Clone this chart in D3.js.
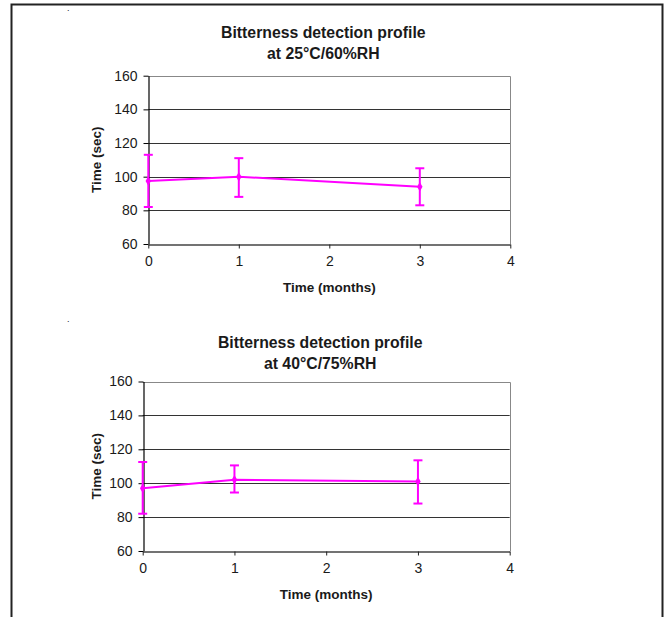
<!DOCTYPE html>
<html>
<head>
<meta charset="utf-8">
<script src="https://cdn.jsdelivr.net/npm/d3@7"></script>
<style>
  html, body { margin: 0; padding: 0; background: #fff; }
  svg { display: block; }
  text { font-family: "Liberation Sans", Arial, sans-serif; fill: #1a1a1a; }
</style>
</head>
<body>
<svg id="chart" width="665" height="617"></svg>
<script>
// ---- data ----
const months = [0, 1, 3];
const xTicks = [0, 1, 2, 3, 4];
const yTicks = [60, 80, 100, 120, 140, 160];

const title1 = ["Bitterness detection profile", "at 25°C/60%RH"];
const mean1  = [97.5, 100, 94];
const upper1 = [113, 111, 105];
const lower1 = [82, 88, 83];

const title2 = ["Bitterness detection profile", "at 40°C/75%RH"];
const mean2  = [97, 102, 101];
const upper2 = [112.5, 110.5, 113.5];
const lower2 = [82, 94.5, 88];

const xLabel = "Time (months)";
const yLabel = "Time (sec)";

// ---- drawing ----
const svg = d3.select("#chart");
const magenta = "#ff00ff";

// outer frame (top, left, right only)
svg.append("path")
  .attr("d", "M11.5,617 L11.5,4.5 L662.5,4.5 L662.5,617")
  .attr("fill", "none").attr("stroke", "#222").attr("stroke-width", 2);

function drawChart(cfg) {
  const x = d3.scaleLinear().domain([0, 4]).range([cfg.x0, cfg.x1]);
  const y = d3.scaleLinear().domain([60, 160]).range([cfg.y0, cfg.y1]);
  const g = svg.append("g");

  // stray dot mark
  g.append("text").attr("x", cfg.dotX).attr("y", cfg.dotY)
    .attr("font-size", 9).text(".");

  // gridlines
  g.append("g").selectAll("line").data(yTicks.filter(v => v > 60 && v < 160)).join("line")
    .attr("x1", x(0)).attr("x2", x(4))
    .attr("y1", d => Math.round(y(d)) + 0.5).attr("y2", d => Math.round(y(d)) + 0.5)
    .attr("stroke", "#333").attr("stroke-width", 1);

  // plot frame top/right in gray
  g.append("path")
    .attr("d", `M${x(0)},${Math.round(y(160)) + 0.5} L${Math.round(x(4)) + 0.5},${Math.round(y(160)) + 0.5} L${Math.round(x(4)) + 0.5},${y(60)}`)
    .attr("fill", "none").attr("stroke", "#888").attr("stroke-width", 1);

  // y axis
  const yAxis = g.append("g")
    .attr("transform", `translate(${Math.round(x(0)) + 0.5},0)`)
    .call(d3.axisLeft(y).tickValues(yTicks).tickSize(5).tickPadding(6).tickSizeOuter(0));
  yAxis.select(".domain").attr("stroke", "#000").attr("stroke-width", 1.2);
  yAxis.selectAll(".tick line").attr("stroke", "#000");
  yAxis.selectAll("text").attr("font-size", 14).attr("fill", "#1a1a1a")
    .attr("font-family", "'Liberation Sans', Arial, sans-serif");

  // x axis
  const xAxis = g.append("g")
    .attr("transform", `translate(0,${Math.round(y(60)) + 0.5})`)
    .call(d3.axisBottom(x).tickValues(xTicks).tickFormat(d3.format("d")).tickSize(4).tickPadding(8).tickSizeOuter(0));
  xAxis.select(".domain").attr("stroke", "#444").attr("stroke-width", 1.6);
  xAxis.selectAll(".tick line").attr("stroke", "#222");
  xAxis.selectAll("text").attr("font-size", 14).attr("fill", "#1a1a1a")
    .attr("font-family", "'Liberation Sans', Arial, sans-serif");

  // title
  const tx = (cfg.x0 + cfg.x1) / 2 - 6;
  g.append("text").attr("x", tx).attr("y", cfg.titleY)
    .attr("text-anchor", "middle").attr("font-size", 15.8).attr("font-weight", "bold")
    .text(cfg.title[0]);
  g.append("text").attr("x", tx).attr("y", cfg.titleY + 21)
    .attr("text-anchor", "middle").attr("font-size", 15.8).attr("font-weight", "bold")
    .text(cfg.title[1]);

  // axis titles
  g.append("text").attr("x", (cfg.x0 + cfg.x1) / 2).attr("y", cfg.y0 + 47.5)
    .attr("text-anchor", "middle").attr("font-size", 13.5).attr("font-weight", "bold")
    .text(xLabel);
  g.append("text")
    .attr("transform", `translate(101,${(cfg.y0 + cfg.y1) / 2}) rotate(-90)`)
    .attr("text-anchor", "middle").attr("font-size", 13.5).attr("font-weight", "bold")
    .text(yLabel);

  // series
  const pts = months.map((m, i) => ({ m, v: cfg.mean[i], hi: cfg.upper[i], lo: cfg.lower[i] }));
  g.append("path").datum(pts)
    .attr("d", d3.line().x(d => x(d.m)).y(d => y(d.v)))
    .attr("fill", "none").attr("stroke", magenta).attr("stroke-width", 2);

  const eb = g.append("g").selectAll("g").data(pts).join("g");
  eb.append("line").attr("x1", d => x(d.m)).attr("x2", d => x(d.m))
    .attr("y1", d => y(d.hi)).attr("y2", d => y(d.lo))
    .attr("stroke", magenta).attr("stroke-width", 2);
  eb.append("line").attr("x1", d => x(d.m) - 4.5).attr("x2", d => x(d.m) + 4.5)
    .attr("y1", d => y(d.hi)).attr("y2", d => y(d.hi))
    .attr("stroke", magenta).attr("stroke-width", 2);
  eb.append("line").attr("x1", d => x(d.m) - 4.5).attr("x2", d => x(d.m) + 4.5)
    .attr("y1", d => y(d.lo)).attr("y2", d => y(d.lo))
    .attr("stroke", magenta).attr("stroke-width", 2);
  eb.append("path")
    .attr("d", d3.symbol().type(d3.symbolDiamond).size(26))
    .attr("transform", d => `translate(${x(d.m)},${y(d.v)})`)
    .attr("fill", magenta);
}

drawChart({ x0: 148.3, x1: 510.3, y0: 244, y1: 75.7, titleY: 37.5,
  dotX: 67, dotY: 11, title: title1, mean: mean1, upper: upper1, lower: lower1 });
drawChart({ x0: 142.7, x1: 509.7, y0: 551, y1: 381.5, titleY: 348,
  dotX: 67, dotY: 322, title: title2, mean: mean2, upper: upper2, lower: lower2 });
</script>
</body>
</html>
